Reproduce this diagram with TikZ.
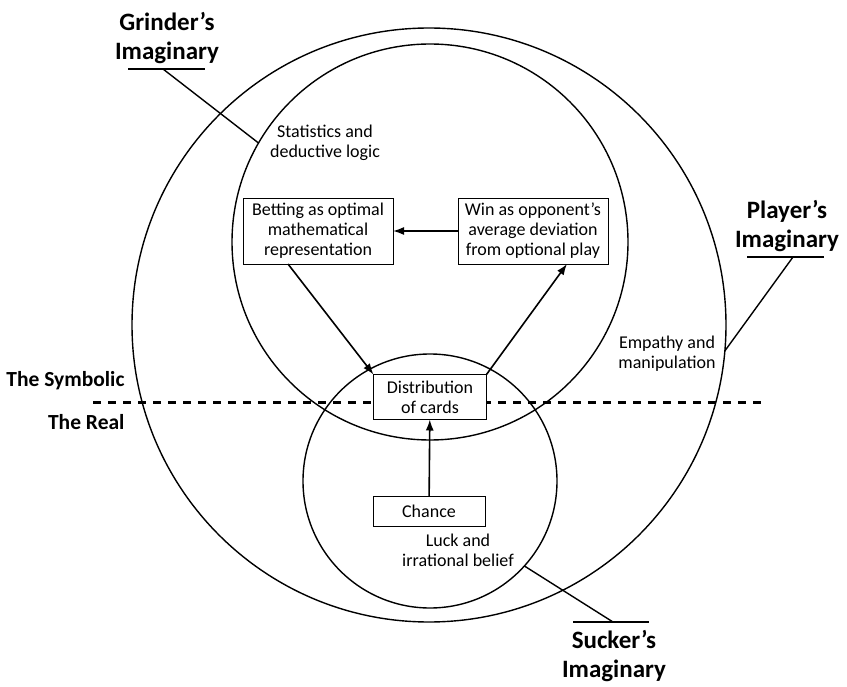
\documentclass[tikz,border=0pt]{standalone}
\usepackage{fontspec}
\setmainfont{Carlito}
\usetikzlibrary{positioning}
\usetikzlibrary{arrows.meta}
\tikzset{edge/.style = {->,> = {Latex[length=11pt,width=8pt]},line width=1.6pt}}

\begin{document}
\begin{tikzpicture}[x=1pt,y=-1pt,
  ring/.style={circle,draw,line width=1.4pt,inner sep=0pt,outer sep=0pt},
  box/.style={rectangle,draw,fill=white,line width=0.8pt,align=center,inner sep=0pt,outer sep=0pt,font=\fontsize{18}{20}\selectfont},
  note/.style={align=center,font=\fontsize{18}{20}\selectfont},
  big label/.style={align=center,font=\fontsize{25}{29}\selectfont\bfseries},
  level label/.style={anchor=east,font=\fontsize{21.5}{24}\selectfont\bfseries}]

\useasboundingbox (0,0) rectangle (847,687);

% the three imaginaries
\node[ring,minimum size=594pt] (player) at (429,325) {};
\node[ring,minimum size=396pt] (grinder) at (430,242) {};
\node[ring,minimum size=254pt] (sucker) at (430,481) {};

% symbolic / real
\coordinate (lineL) at (93,402);
\coordinate (lineR) at (765,402);
\draw[line width=3pt,dash pattern=on 8pt off 7pt] (lineL) -- (lineR);
\node[level label] (symb) at (128,381) {The Symbolic};
\node[level label] (real) at (128,422) {The Real};

% boxes
\node[box,minimum width=150pt,minimum height=66pt] (bet) at (318,231) {Betting as optimal\\mathematical\\representation};
\node[box,minimum width=150pt,minimum height=66pt] (win) at (533,231) {Win as opponent’s\\average deviation\\from optional play};
\node[box,minimum width=113pt,minimum height=45pt] (dist) at (430,397) {Distribution\\of cards};
\node[box,minimum width=112pt,minimum height=30pt] (chance) at (429,511) {Chance};

\path[edge] (win) edge (bet);
\path[edge] ([xshift=-30pt]bet.south) edge (dist.north west);
\path[edge] (dist.north east) edge ([xshift=34pt]win.south);
\path[edge] (chance) edge (dist);

% notes
\node[note] (stats) at (325,143) {Statistics and\\deductive logic};
\node[note] (empathy) at (667,354) {Empathy and\\manipulation};
\node[note] (luck) at (458,550) {Luck and\\irrational belief};

% labels with leaders
\node[big label] (grinderlbl) at (167,38) {Grinder’s\\Imaginary};
\coordinate (gA) at (128,69);
\coordinate (gB) at (205,69);
\coordinate (gC) at (163,69);
\draw[line width=1.4pt] (gA) -- (gB);
\draw[line width=1.4pt] (gC) -- (grinder.150.5);

\node[big label] (playerlbl) at (787,226) {Player’s\\Imaginary};
\coordinate (pA) at (747,257);
\coordinate (pB) at (824,257);
\coordinate (pC) at (793,257);
\draw[line width=1.4pt] (pA) -- (pB);
\draw[line width=1.4pt] (pC) -- (player.-5.2);

\node[big label] (suckerlbl) at (614,656) {Sucker’s\\Imaginary};
\coordinate (sA) at (573,622);
\coordinate (sB) at (649,622);
\coordinate (sC) at (613,622);
\draw[line width=1.4pt] (sA) -- (sB);
\draw[line width=1.4pt] (sC) -- (sucker.-42.8);
\end{tikzpicture}
\end{document}
